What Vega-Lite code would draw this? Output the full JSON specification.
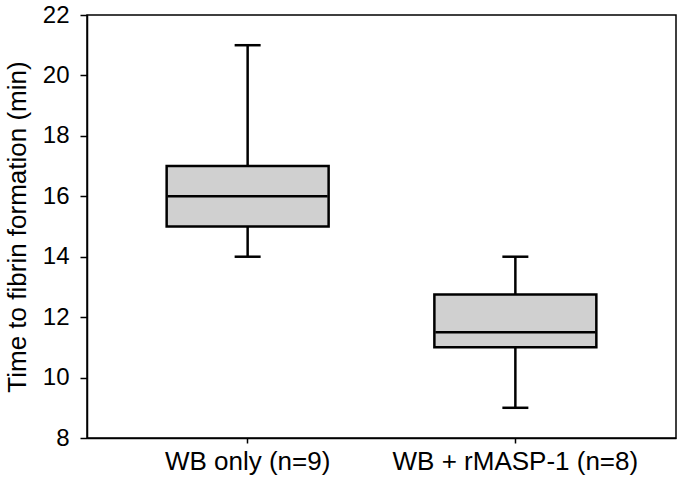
{
  "$schema": "https://vega.github.io/schema/vega-lite/v6.json",
  "autosize": {"type": "none"},
  "width": 589,
  "height": 423,
  "padding": {"left": 87, "top": 15, "right": 3, "bottom": 46},
  "background": "white",
  "config": {
    "view": {"stroke": "black", "strokeWidth": 1.5},
    "font": "Liberation Sans",
    "axis": {
      "grid": false,
      "domainColor": "black",
      "domainWidth": 1.5,
      "tickColor": "black",
      "tickWidth": 1.5,
      "labelColor": "black",
      "labelFont": "Liberation Sans",
      "labelFontSize": 26,
      "labelLimit": 0,
      "titleFont": "Liberation Sans",
      "titleFontSize": 26,
      "titleFontWeight": "normal",
      "titleColor": "black"
    }
  },
  "data": {
    "values": [
      {"group": "WB only (n=9)", "lower": 14, "q1": 15, "median": 16, "q3": 17, "upper": 21},
      {"group": "WB + rMASP-1 (n=8)", "lower": 9, "q1": 11, "median": 11.5, "q3": 12.75, "upper": 14}
    ]
  },
  "encoding": {
    "x": {
      "field": "group",
      "type": "nominal",
      "sort": null,
      "scale": {"paddingInner": 0.395, "paddingOuter": 0.2975},
      "axis": {"title": null, "labelAngle": 0, "tickSize": 5, "labelPadding": 5}
    }
  },
  "layer": [
    {
      "mark": {"type": "rule", "color": "black", "strokeWidth": 2.5, "opacity": 1},
      "encoding": {
        "y": {
          "field": "lower",
          "type": "quantitative",
          "scale": {"domain": [8, 22], "nice": false, "zero": false},
          "axis": {"title": "Time to fibrin formation (min)", "values": [8, 10, 12, 14, 16, 18, 20, 22], "tickSize": 7, "labelFontSize": 24, "labelPadding": 11, "titlePadding": 12}
        },
        "y2": {"field": "upper"}
      }
    },
    {
      "mark": {"type": "bar", "fill": "#d0d0d0", "stroke": "black", "strokeWidth": 2.5, "opacity": 1},
      "encoding": {
        "y": {"field": "q1", "type": "quantitative"},
        "y2": {"field": "q3"}
      }
    },
    {
      "mark": {"type": "tick", "color": "black", "size": 160, "thickness": 2.5, "opacity": 1},
      "encoding": {"y": {"field": "median", "type": "quantitative"}}
    },
    {
      "mark": {"type": "tick", "color": "black", "size": 26, "thickness": 2.5, "opacity": 1},
      "encoding": {"y": {"field": "lower", "type": "quantitative"}}
    },
    {
      "mark": {"type": "tick", "color": "black", "size": 26, "thickness": 2.5, "opacity": 1},
      "encoding": {"y": {"field": "upper", "type": "quantitative"}}
    }
  ]
}
